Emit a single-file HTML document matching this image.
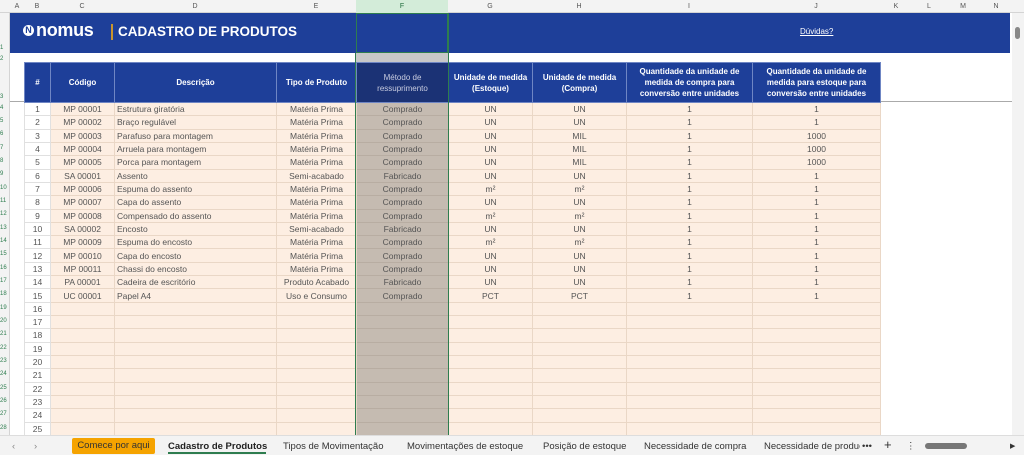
<!DOCTYPE html>
<html><head><meta charset="utf-8"><style>
*{margin:0;padding:0;box-sizing:border-box}
body{width:1024px;height:455px;overflow:hidden;background:#fff;font-family:"Liberation Sans",sans-serif;position:relative}
.colh{position:absolute;top:0;left:0;width:1024px;height:13px;background:#f3f3f3;border-bottom:1px solid #d4d4d4;font-size:7px;color:#555}
.colh span{position:absolute;top:3px;text-align:center}
.rowh{position:absolute;left:0;top:13px;width:10px;height:422px;background:#f3f3f3;border-right:1px solid #d4d4d4}
.rowh span{position:absolute;left:0;width:10px;font-size:6px;color:#2e7d4f;text-align:left}
.banner{position:absolute;left:10px;top:13px;width:1000px;height:40px;background:#1e3f99}
table{position:absolute;left:24px;top:62px;border-collapse:collapse;table-layout:fixed;font-size:8.5px;color:#555}
th{background:#1e3f99;color:#fff;font-weight:bold;height:40px;border:1px solid #6f86c4;font-size:8px;line-height:11px}
td{height:13.32px;border:1px solid #ead7c6;background:#fdeee2;text-align:center;white-space:nowrap;overflow:hidden;line-height:12px;padding:0}
td.n{background:#fff;border-color:#e0e0e0}
td.d{text-align:left;padding-left:2px}
td.f{background:#c5bbb1;border-color:#b8ada2}
th.f{background:#1b3275;color:#c9cde0;font-weight:normal}
.tabs{position:absolute;left:0;top:435px;width:1024px;height:20px;background:#f3f3f3;border-top:1px solid #ddd;font-size:9.5px;color:#333}
.tabs span{position:absolute;top:5px}
</style></head><body>
<div class="colh">
<span style="left:10px;width:14px">A</span><span style="left:24px;width:26px">B</span><span style="left:50px;width:64px">C</span><span style="left:114px;width:162px">D</span><span style="left:276px;width:80px">E</span>
<span style="left:356px;width:92px;top:0;height:13px;padding-top:3px;background:#d3ecd9;color:#1d6b3a">F</span>
<span style="left:448px;width:84px">G</span><span style="left:532px;width:94px">H</span><span style="left:626px;width:126px">I</span><span style="left:752px;width:128px">J</span><span style="left:880px;width:32px">K</span><span style="left:912px;width:34px">L</span><span style="left:946px;width:34px">M</span><span style="left:980px;width:32px">N</span>
</div>
<div class="rowh">
<span style="top:32px">1</span><span style="top:43px">2</span><span style="top:81px">3</span>
<span style="top:92px">4</span><span style="top:105px">5</span><span style="top:118px">6</span><span style="top:132px">7</span><span style="top:145px">8</span><span style="top:158px">9</span><span style="top:172px">10</span><span style="top:185px">11</span><span style="top:198px">12</span><span style="top:212px">13</span><span style="top:225px">14</span><span style="top:238px">15</span><span style="top:252px">16</span><span style="top:265px">17</span><span style="top:278px">18</span><span style="top:292px">19</span><span style="top:305px">20</span><span style="top:318px">21</span><span style="top:332px">22</span><span style="top:345px">23</span><span style="top:358px">24</span><span style="top:372px">25</span><span style="top:385px">26</span><span style="top:398px">27</span><span style="top:412px">28</span>
</div>
<div class="banner">
<div style="position:absolute;left:13px;top:12px;width:11px;height:11px;border-radius:50%;background:#fff;color:#1e3f99;font-weight:bold;font-size:9px;text-align:center;line-height:11px">N</div>
<div style="position:absolute;left:26px;top:7px;color:#fff;font-weight:bold;font-size:18px;letter-spacing:-0.3px">nomus</div>
<div style="position:absolute;left:101px;top:11px;width:1.5px;height:16px;background:#c9952e"></div>
<div style="position:absolute;left:108px;top:11px;color:#fff;font-weight:bold;font-size:13.5px">CADASTRO DE PRODUTOS</div>
<div style="position:absolute;left:790px;top:14px;color:#fff;font-size:8px;text-decoration:underline">Dúvidas?</div>
</div>
<div style="position:absolute;left:356px;top:13px;width:92px;height:40px;background:#1e3f99;border:1px solid #2e7d4f"></div>
<div style="position:absolute;left:356px;top:53px;width:92px;height:9px;background:#c8c8c8"></div>
<div style="position:absolute;left:10px;top:101px;width:1002px;height:1px;background:#aaa"></div>
<table>
<colgroup><col style="width:26px"><col style="width:64px"><col style="width:162px"><col style="width:80px"><col style="width:92px"><col style="width:84px"><col style="width:94px"><col style="width:126px"><col style="width:128px"></colgroup>
<tr><th>#</th><th>Código</th><th>Descrição</th><th>Tipo de Produto</th><th class="f">Método de<br>ressuprimento</th><th>Unidade de medida<br>(Estoque)</th><th>Unidade de medida<br>(Compra)</th><th>Quantidade da unidade de<br>medida de compra para<br>conversão entre unidades</th><th>Quantidade da unidade de<br>medida para estoque para<br>conversão entre unidades</th></tr>
<tr><td class="n">1</td><td>MP 00001</td><td class="d">Estrutura giratória</td><td>Matéria Prima</td><td class="f">Comprado</td><td>UN</td><td>UN</td><td>1</td><td>1</td></tr>
<tr><td class="n">2</td><td>MP 00002</td><td class="d">Braço regulável</td><td>Matéria Prima</td><td class="f">Comprado</td><td>UN</td><td>UN</td><td>1</td><td>1</td></tr>
<tr><td class="n">3</td><td>MP 00003</td><td class="d">Parafuso para montagem</td><td>Matéria Prima</td><td class="f">Comprado</td><td>UN</td><td>MIL</td><td>1</td><td>1000</td></tr>
<tr><td class="n">4</td><td>MP 00004</td><td class="d">Arruela para montagem</td><td>Matéria Prima</td><td class="f">Comprado</td><td>UN</td><td>MIL</td><td>1</td><td>1000</td></tr>
<tr><td class="n">5</td><td>MP 00005</td><td class="d">Porca para montagem</td><td>Matéria Prima</td><td class="f">Comprado</td><td>UN</td><td>MIL</td><td>1</td><td>1000</td></tr>
<tr><td class="n">6</td><td>SA 00001</td><td class="d">Assento</td><td>Semi-acabado</td><td class="f">Fabricado</td><td>UN</td><td>UN</td><td>1</td><td>1</td></tr>
<tr><td class="n">7</td><td>MP 00006</td><td class="d">Espuma do assento</td><td>Matéria Prima</td><td class="f">Comprado</td><td>m²</td><td>m²</td><td>1</td><td>1</td></tr>
<tr><td class="n">8</td><td>MP 00007</td><td class="d">Capa do assento</td><td>Matéria Prima</td><td class="f">Comprado</td><td>UN</td><td>UN</td><td>1</td><td>1</td></tr>
<tr><td class="n">9</td><td>MP 00008</td><td class="d">Compensado do assento</td><td>Matéria Prima</td><td class="f">Comprado</td><td>m²</td><td>m²</td><td>1</td><td>1</td></tr>
<tr><td class="n">10</td><td>SA 00002</td><td class="d">Encosto</td><td>Semi-acabado</td><td class="f">Fabricado</td><td>UN</td><td>UN</td><td>1</td><td>1</td></tr>
<tr><td class="n">11</td><td>MP 00009</td><td class="d">Espuma do encosto</td><td>Matéria Prima</td><td class="f">Comprado</td><td>m²</td><td>m²</td><td>1</td><td>1</td></tr>
<tr><td class="n">12</td><td>MP 00010</td><td class="d">Capa do encosto</td><td>Matéria Prima</td><td class="f">Comprado</td><td>UN</td><td>UN</td><td>1</td><td>1</td></tr>
<tr><td class="n">13</td><td>MP 00011</td><td class="d">Chassi do encosto</td><td>Matéria Prima</td><td class="f">Comprado</td><td>UN</td><td>UN</td><td>1</td><td>1</td></tr>
<tr><td class="n">14</td><td>PA 00001</td><td class="d">Cadeira de escritório</td><td>Produto Acabado</td><td class="f">Fabricado</td><td>UN</td><td>UN</td><td>1</td><td>1</td></tr>
<tr><td class="n">15</td><td>UC 00001</td><td class="d">Papel A4</td><td>Uso e Consumo</td><td class="f">Comprado</td><td>PCT</td><td>PCT</td><td>1</td><td>1</td></tr>
<tr><td class="n">16</td><td></td><td></td><td></td><td class="f"></td><td></td><td></td><td></td><td></td></tr>
<tr><td class="n">17</td><td></td><td></td><td></td><td class="f"></td><td></td><td></td><td></td><td></td></tr>
<tr><td class="n">18</td><td></td><td></td><td></td><td class="f"></td><td></td><td></td><td></td><td></td></tr>
<tr><td class="n">19</td><td></td><td></td><td></td><td class="f"></td><td></td><td></td><td></td><td></td></tr>
<tr><td class="n">20</td><td></td><td></td><td></td><td class="f"></td><td></td><td></td><td></td><td></td></tr>
<tr><td class="n">21</td><td></td><td></td><td></td><td class="f"></td><td></td><td></td><td></td><td></td></tr>
<tr><td class="n">22</td><td></td><td></td><td></td><td class="f"></td><td></td><td></td><td></td><td></td></tr>
<tr><td class="n">23</td><td></td><td></td><td></td><td class="f"></td><td></td><td></td><td></td><td></td></tr>
<tr><td class="n">24</td><td></td><td></td><td></td><td class="f"></td><td></td><td></td><td></td><td></td></tr>
<tr><td class="n">25</td><td></td><td></td><td></td><td class="f"></td><td></td><td></td><td></td><td></td></tr>
</table>
<div style="position:absolute;left:355px;top:53px;width:1px;height:382px;background:#2e7d4f"></div>
<div style="position:absolute;left:448px;top:13px;width:1px;height:422px;background:#2e7d4f"></div>
<div style="position:absolute;left:1012px;top:13px;width:12px;height:422px;background:#f3f3f3"><div style="position:absolute;left:3px;top:14px;width:5px;height:12px;border-radius:3px;background:#888"></div></div>
<div class="tabs">
<span style="left:12px;color:#888">‹</span><span style="left:34px;color:#888">›</span>
<span style="left:72px;top:2px;width:83px;height:16px;background:#f5a300;border-radius:2px;text-align:center;line-height:16px;color:#333">Comece por aqui</span>
<span style="left:168px;font-weight:bold;color:#222">Cadastro de Produtos</span>
<div style="position:absolute;left:168px;top:16px;width:98px;height:2px;background:#2e7d4f"></div>
<span style="left:283px">Tipos de Movimentação</span>
<span style="left:407px">Movimentações de estoque</span>
<span style="left:543px">Posição de estoque</span>
<span style="left:644px">Necessidade de compra</span>
<span style="left:764px;width:96px;overflow:hidden;white-space:nowrap">Necessidade de produção</span>
<span style="left:862px">•••</span><span style="left:884px;font-size:13px;top:1px">+</span><span style="left:906px">⋮</span>
<div style="position:absolute;left:925px;top:7px;width:42px;height:6px;border-radius:3px;background:#777"></div>
<span style="left:1010px;font-size:7px;top:6px">▶</span>
</div>
</body></html>
